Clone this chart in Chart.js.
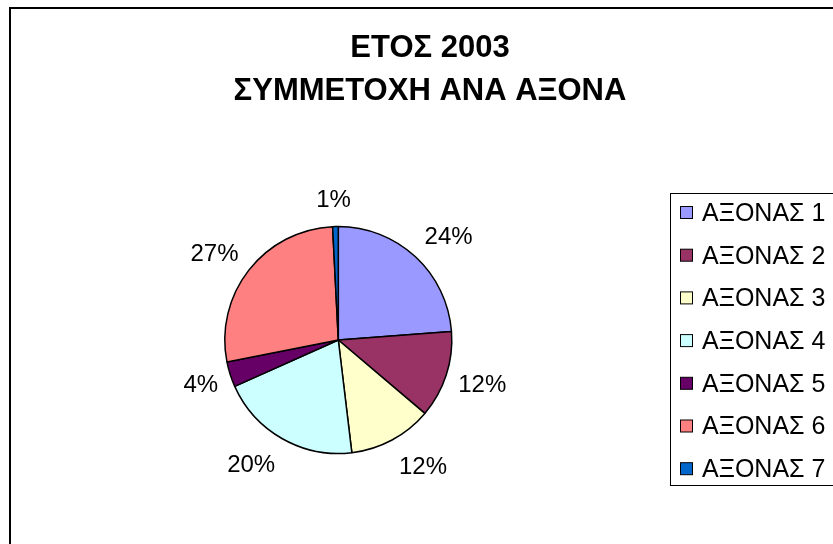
<!DOCTYPE html>
<html>
<head>
<meta charset="utf-8">
<script src="https://cdn.jsdelivr.net/npm/chart.js@4.4.1/dist/chart.umd.min.js"></script>
<style>
  html, body { margin: 0; padding: 0; background: #fff; overflow: hidden; }
  #wrap { position: relative; width: 833px; height: 544px; }
  #frame { position: absolute; left: 9px; top: 7px; width: 900px; height: 600px; border: 2px solid #000; box-sizing: border-box; }
  canvas { position: absolute; left: 0; top: 0; }
</style>
</head>
<body>
<div id="wrap">
  <div id="frame"></div>
  <canvas id="grafico" width="833" height="544"></canvas>
</div>
<script>
// dados do gráfico
const titulo = ['ΕΤΟΣ 2003', 'ΣΥΜΜΕΤΟΧΗ ΑΝΑ ΑΞΟΝΑ'];
const categorias = ['ΑΞΟΝΑΣ 1', 'ΑΞΟΝΑΣ 2', 'ΑΞΟΝΑΣ 3', 'ΑΞΟΝΑΣ 4', 'ΑΞΟΝΑΣ 5', 'ΑΞΟΝΑΣ 6', 'ΑΞΟΝΑΣ 7'];
const valores = [23.8, 12.4, 11.9, 20.2, 3.6, 27.3, 0.8];
const cores = ['#9999FF', '#993366', '#FFFFCC', '#CCFFFF', '#660066', '#FF8080', '#0066CC'];

const fonte = '"Liberation Sans", Arial, sans-serif';

const lim = v => Math.max(-1, Math.min(1, v / 0.3));

// título, legenda e rótulos desenhados à mão (estilo Excel)
const extras = {
    id: 'extras',
    afterDraw(chart) {
        const ctx = chart.ctx;
        ctx.save();
        ctx.fillStyle = '#000';
        ctx.textAlign = 'center';
        ctx.textBaseline = 'middle';

        // título
        ctx.font = 'bold 31px ' + fonte;
        ctx.fillText(titulo[0], 430, 48);
        ctx.fillText(titulo[1], 430, 91);

        // rótulos de porcentagem fora da pizza
        ctx.font = '24px ' + fonte;
        ctx.textBaseline = 'alphabetic';
        const meta = chart.getDatasetMeta(0);
        const total = valores.reduce((a, b) => a + b, 0);
        meta.data.forEach((arc, i) => {
            const p = arc.getProps(['x', 'y', 'startAngle', 'endAngle', 'outerRadius']);
            const meio = (p.startAngle + p.endAngle) / 2;
            const texto = Math.round(valores[i] / total * 100) + '%';
            const w = ctx.measureText(texto).width;
            const h = 17;
            const cx = Math.cos(meio), cy = Math.sin(meio);
            const d = p.outerRadius + 10.5;
            const x = p.x + cx * d + lim(cx) * (w / 2 + 2);
            const y = p.y + cy * (d + 18);
            ctx.fillText(texto, x, y + h / 2);
        });

        // legenda
        ctx.textBaseline = 'middle';
        ctx.lineWidth = 1;
        ctx.strokeStyle = '#000';
        ctx.strokeRect(670.5, 193.5, 300, 292);
        ctx.font = '25px ' + fonte;
        ctx.textAlign = 'left';
        categorias.forEach((nome, i) => {
            const y = 213 + i * 42.7;
            ctx.fillStyle = cores[i];
            ctx.fillRect(680.5, y - 6.5, 12, 12);
            ctx.strokeRect(680.5, y - 6.5, 12, 12);
            ctx.fillStyle = '#000';
            ctx.fillText(nome, 702, y + 1);
        });
        ctx.restore();
    }
};

const ctx = document.getElementById('grafico').getContext('2d');
new Chart(ctx, {
    type: 'pie',
    data: {
        labels: categorias,
        datasets: [{
            data: valores,
            backgroundColor: cores,
            borderColor: '#000',
            borderWidth: 1.5
        }]
    },
    options: {
        responsive: false,
        animation: false,
        radius: 113.5,
        layout: { padding: { left: 100, right: 256.4, top: 160, bottom: 24 } },
        plugins: {
            legend: { display: false },
            title: { display: false },
            tooltip: { enabled: false }
        }
    },
    plugins: [extras]
});
</script>
</body>
</html>
